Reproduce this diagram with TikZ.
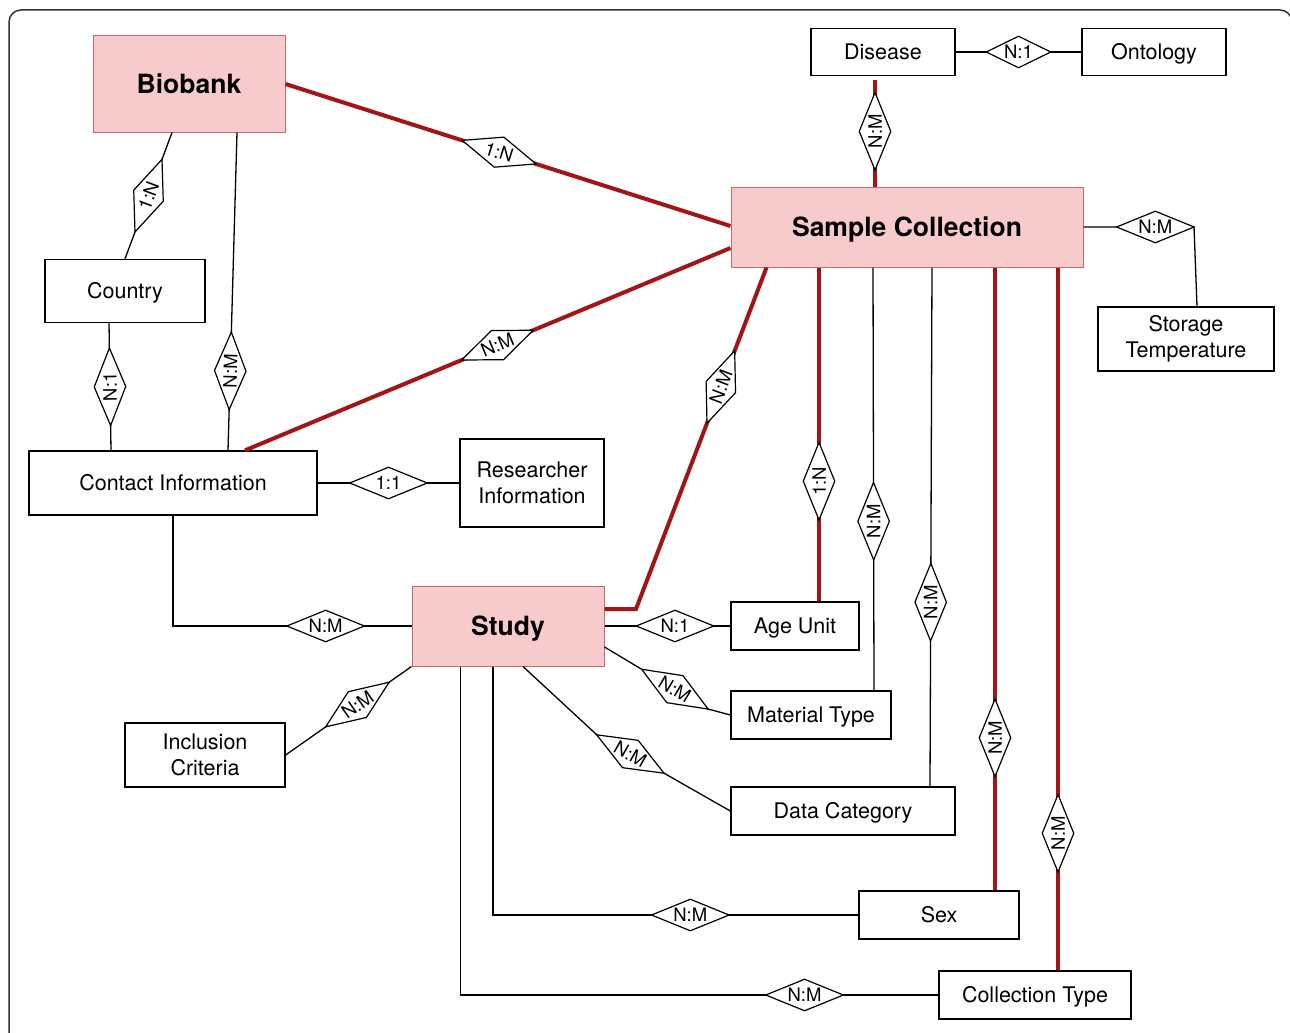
\documentclass[tikz,border=0pt]{standalone}
\usepackage{fontspec}
\setmainfont{TeX Gyre Heros}
\usetikzlibrary{shapes.geometric}

\definecolor{keyfill}{HTML}{F7CBCB}
\definecolor{keydraw}{HTML}{C36A6A}
\definecolor{keyred}{HTML}{A31515}
\definecolor{framegray}{HTML}{333333}
\newcommand{\entfont}{\fontsize{21.5}{26}\selectfont}
\newcommand{\keyfont}{\bfseries\fontsize{26.5}{30}\selectfont}
\newcommand{\relfont}{\fontsize{18.5}{20}\selectfont}

\begin{document}
\begin{tikzpicture}[x=1pt, y=-1pt,
  entity/.style={draw, fill=white, line width=1.3pt, inner sep=0pt, align=center, font=\entfont},
  oneline/.style={text height=15.5pt, text depth=0pt},
  keyentity/.style={draw=keydraw, fill=keyfill, line width=1pt, inner sep=0pt, font=\keyfont,
    text height=19pt, text depth=0pt},
  rel/.style={diamond, draw=black, fill=white, text=black, line width=1.2pt, aspect=2.4,
    minimum width=78pt, minimum height=32pt, inner sep=0pt, font=\relfont, sloped, allow upside down},
  link/.style={line width=1.3pt},
  keylink/.style={keyred, line width=4pt}
]
\useasboundingbox (0,0) rectangle (1290,1033);
\draw[framegray, line width=1.5pt, rounded corners=12pt] (9,10) rectangle (1292,1050);

% entities
\node[keyentity, minimum width=192pt, minimum height=96pt] (biobank) at (189,84) {Biobank};
\node[keyentity, minimum width=352pt, minimum height=80pt] (sc) at (907,227) {Sample Collection};
\node[keyentity, minimum width=192pt, minimum height=80pt] (study) at (508,626) {Study};
\node[entity, oneline, minimum width=160pt, minimum height=63pt] (country) at (125,291) {Country};
\node[entity, oneline, minimum width=288pt, minimum height=64pt] (contact) at (173,483) {Contact Information};
\node[entity, minimum width=144pt, minimum height=88pt] (researcher) at (532,483) {Researcher\\Information};
\node[entity, oneline, minimum width=144pt, minimum height=47pt] (disease) at (883,52) {Disease};
\node[entity, oneline, minimum width=144pt, minimum height=47pt] (ontology) at (1154,52) {Ontology};
\node[entity, minimum width=176pt, minimum height=64pt] (storage) at (1186,339) {Storage\\Temperature};
\node[entity, minimum width=160pt, minimum height=64pt] (inclusion) at (205,755) {Inclusion\\Criteria};
\node[entity, oneline, minimum width=128pt, minimum height=48pt] (ageunit) at (795,626) {Age Unit};
\node[entity, oneline, minimum width=160pt, minimum height=48pt] (material) at (811,715) {Material Type};
\node[entity, oneline, minimum width=224pt, minimum height=48pt] (datacat) at (843,811) {Data Category};
\node[entity, oneline, minimum width=160pt, minimum height=48pt] (sex) at (939,915) {Sex};
\node[entity, oneline, minimum width=192pt, minimum height=48pt] (colltype) at (1035,995) {Collection Type};

\coordinate (stbend) at (1194,227);
\coordinate (studybend) at (636,609);
\coordinate (matbend) at (708,709);
\coordinate (catbend) at (597,735);

% relationships around biobank
\draw[keylink] (biobank.east) -- node[rel, pos=0.48] (bio-sc) {1:N} ([yshift=1pt]sc.west);
\draw[link] (country.north) -- node[rel, pos=0.5] (bio-country) {1:N} ([xshift=-17pt]biobank.south);
\draw[link] ([xshift=55pt]contact.north) -- node[rel, pos=0.25] (bio-contact) {N:M} ([xshift=48pt]biobank.south);
\draw[link] ([xshift=-62pt]contact.north) -- node[rel, pos=0.5] (country-contact) {N:1} ([xshift=-16pt]country.south);
\draw[link] (contact.east) -- node[rel, pos=0.5] (contact-res) {1:1} (researcher.west);
\draw[keylink] ([xshift=72pt]contact.north) -- node[rel, pos=0.52] (sc-contact) {N:M} ([yshift=-21pt]sc.west);
\draw[link] (contact.south) |- node[rel, pos=0.82] (study-contact) {N:M} (study.west);

% relationships around sample collection
\draw[keylink, shorten >=4pt] ([xshift=-32pt]sc.north) -- node[rel, pos=0.5] (sc-disease) {N:M} ([xshift=-8pt]disease.south);
\draw[link] (disease.east) -- node[rel, pos=0.5, minimum width=65pt] (disease-ont) {N:1} (ontology.west);
\draw[link] (sc.east) -- node[rel, pos=0.65] (sc-storage) {N:M} (stbend) -- ([xshift=11pt]storage.north);
\draw[keylink] ([yshift=17pt]study.east) -- (studybend) -- node[rel, pos=0.65] (sc-study) {N:M} ([xshift=36pt]sc.south west);
\draw[keylink] ([xshift=24pt]ageunit.north) -- node[rel, pos=0.36] (sc-age) {1:N} ([xshift=-88pt]sc.south);
\draw[link] ([xshift=63pt]material.north) -- node[rel, pos=0.4] (sc-mat) {N:M} ([xshift=-34pt]sc.south);
\draw[link] ([xshift=87pt]datacat.north) -- node[rel, pos=0.355] (sc-cat) {N:M} ([xshift=25pt]sc.south);
\draw[keylink] ([xshift=56pt]sex.north) -- node[rel, pos=0.245] (sc-sex) {N:M} ([xshift=88pt]sc.south);
\draw[keylink] ([xshift=23pt]colltype.north) -- node[rel, pos=0.195] (sc-type) {N:M} ([xshift=151pt]sc.south);

% relationships around study
\draw[link] (inclusion.east) -- node[rel, pos=0.57] (study-incl) {N:M} (study.south west);
\draw[link] (study.east) -- node[rel, pos=0.56] (study-age) {N:1} (ageunit.west);
\draw[link] ([yshift=-21pt]study.east) -- node[rel, pos=0.68] (study-mat) {N:M} (matbend) -- (material.west);
\draw[link] ([xshift=15pt]study.south) -- (catbend) -- node[rel, pos=0.25] (study-cat) {N:M} (datacat.west);
\draw[link] ([xshift=-15pt]study.south) |- node[rel, pos=0.77] (study-sex) {N:M} (sex.west);
\draw[link] ([xshift=-47.5pt]study.south) |- node[rel, pos=0.86] (study-type) {N:M} (colltype.west);
\end{tikzpicture}
\end{document}
